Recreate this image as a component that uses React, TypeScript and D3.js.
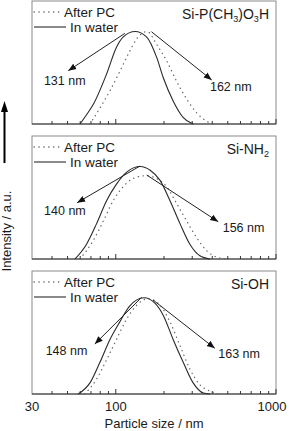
import React from "react";
import { scaleLog, scaleLinear, line, curveMonotoneX } from "d3";

type Pt = [number, number];

const W = 289;
const H = 431;
const PLOT = { left: 32, right: 276 };
const PANEL_TOP = [1, 136, 271];
const PANEL_H = 123;
const Y_MAX = 133;

// particle size (nm) vs. normalised intensity, one pair of curves per surface
const P1_WATER: Pt[] = [[59.8, 0], [65.7, 10], [72.3, 21], [87.6, 54], [101, 83], [111, 94], [132, 100], [156, 94], [180, 72], [198, 50], [228, 25], [264, 7], [297, 1], [305, 0]];
const P1_PC: Pt[] = [[69, 0], [77.6, 14], [92, 36], [106, 57], [120, 76], [135, 92], [157, 100], [180, 86], [208, 68], [240, 46], [277, 27], [320, 12], [369, 3], [397, 0]];
const P2_WATER: Pt[] = [[55.7, 0], [65.7, 16], [75.8, 38], [87.6, 63], [101, 81], [117, 94], [142, 100], [164, 96], [189, 85], [218, 63], [252, 38], [290, 16], [335, 3.5], [387, 0]];
const P2_PC: Pt[] = [[59.8, 0], [72.3, 20], [83.6, 41], [96.3, 63], [111, 78], [128, 87], [154, 90], [180, 87], [208, 78], [240, 60], [277, 41], [320, 23], [369, 9], [426, 2], [492, 0]];
const P3_WATER: Pt[] = [[58.3, 0], [69, 12], [79.5, 34], [92, 59], [106, 78], [122, 95], [150, 104], [176, 98], [198, 85], [228, 59], [264, 34], [304, 12], [352, 1], [387, 0]];
const P3_PC: Pt[] = [[64.1, 0], [75.8, 16], [87.6, 37], [101, 59], [117, 81], [135, 96], [159, 103], [189, 96], [218, 78], [252, 52], [290, 27], [335, 10], [387, 3], [447, 0]];

const SAMPLES = [
  { base: "Si-P(CH", parts: [["3", true], [")O", false], ["3", true], ["H", false]] },
  { base: "Si-NH", parts: [["2", true]] },
  { base: "Si-OH", parts: [] },
] as { base: string; parts: [string, boolean][] }[];

const PEAK_LABELS = [
  ["131 nm", "162 nm"],
  ["140 nm", "156 nm"],
  ["148 nm", "163 nm"],
];

// arrows: [fromNm, fromI, toNm, toI]; label anchors: [nm, I]
const ARROWS_LEFT = [[114, 98, 50.5, 57.6], [141.5, 100.5, 57.4, 60.9], [145, 104.5, 74, 54]];
const ARROWS_RIGHT = [[167, 99.8, 397, 47.6], [156, 90.8, 436, 40.3], [171, 101.6, 415, 49.4]];
const LABEL_LEFT = [[35.6, 42.2], [35.7, 47.6], [36.5, 42.2]];
const LABEL_RIGHT = [[387, 35.7], [465, 29.5], [436, 38.6]];

const MAJOR_TICKS = [100, 1000];
const MINOR_TICKS = [40, 50, 60, 70, 80, 90, 200, 300, 400, 500, 600, 700, 800, 900];
const TICK_LABELS = [30, 100, 1000];

const WATER = [P1_WATER, P2_WATER, P3_WATER];
const PC = [P1_PC, P2_PC, P3_PC];

const FONT = "'Liberation Sans', Arial, sans-serif";

const x = scaleLog().domain([30, 1000]).range([PLOT.left, PLOT.right]);

function Panel({ i }: { i: number }) {
  const top = PANEL_TOP[i];
  const bottom = top + PANEL_H;
  const y = scaleLinear().domain([0, Y_MAX]).range([bottom, top]);
  const path = line<Pt>()
    .x((d) => x(d[0]))
    .y((d) => y(d[1]))
    .curve(curveMonotoneX);
  const sample = SAMPLES[i];
  const al = ARROWS_LEFT[i];
  const ar = ARROWS_RIGHT[i];

  return (
    <g>
      <rect x={PLOT.left} y={top} width={PLOT.right - PLOT.left} height={PANEL_H} fill="none" stroke="#8a8a8a" strokeWidth={1} />
      <line x1={PLOT.left} x2={PLOT.right} y1={bottom} y2={bottom} stroke="#333" strokeWidth={1} />
      {MAJOR_TICKS.map((t) => (
        <line key={t} x1={x(t)} x2={x(t)} y1={bottom} y2={bottom - 5} stroke="#333" />
      ))}
      {MINOR_TICKS.map((t) => (
        <line key={t} x1={x(t)} x2={x(t)} y1={bottom} y2={bottom - 3} stroke="#333" />
      ))}

      <path d={path(PC[i]) ?? ""} fill="none" stroke="#666" strokeWidth={1.3} strokeDasharray="0.3 4.6" strokeLinecap="round" />
      <path d={path(WATER[i]) ?? ""} fill="none" stroke="#2a2a2a" strokeWidth={1.1} />

      {/* legend */}
      <line x1={34} x2={60} y1={top + 11} y2={top + 11} stroke="#666" strokeWidth={1.3} strokeDasharray="0.3 4.6" strokeLinecap="round" />
      <text x={64} y={top + 15.5} fontSize={13.5} fill="#1a1a1a">After PC</text>
      <line x1={34} x2={66} y1={top + 26} y2={top + 26} stroke="#2a2a2a" strokeWidth={1.1} />
      <text x={70} y={top + 30.5} fontSize={13.5} fill="#1a1a1a">In water</text>

      <text x={269} y={top + 18} fontSize={14} fill="#1a1a1a" textAnchor="end">
        {sample.base}
        {sample.parts.map(([s, sub], k) => (
          <tspan key={k} fontSize={sub ? 9 : 14} dy={sub ? 3 : k > 0 ? -3 : 0}>{s}</tspan>
        ))}
      </text>

      <line x1={x(al[0])} y1={y(al[1])} x2={x(al[2])} y2={y(al[3])} stroke="#222" strokeWidth={1} markerEnd="url(#head)" />
      <line x1={x(ar[0])} y1={y(ar[1])} x2={x(ar[2])} y2={y(ar[3])} stroke="#222" strokeWidth={1} markerEnd="url(#head)" />
      <text x={x(LABEL_LEFT[i][0])} y={y(LABEL_LEFT[i][1])} fontSize={12.5} fill="#1a1a1a">{PEAK_LABELS[i][0]}</text>
      <text x={x(LABEL_RIGHT[i][0])} y={y(LABEL_RIGHT[i][1])} fontSize={12.5} fill="#1a1a1a">{PEAK_LABELS[i][1]}</text>
    </g>
  );
}

export default function App() {
  const axisBottom = PANEL_TOP[2] + PANEL_H;
  return (
    <svg
      width={W}
      height={H}
      viewBox={`0 0 ${W} ${H}`}
      style={{ position: "absolute", left: 0, top: 0, background: "#fff", fontFamily: FONT }}
    >
      <defs>
        <marker id="head" markerUnits="userSpaceOnUse" markerWidth={10} markerHeight={10} refX={8} refY={4} orient="auto">
          <path d="M0,0.8 L8,4 L0,7.2 Z" fill="#111" />
        </marker>
      </defs>
      <rect width={W} height={H} fill="#fff" />
      {[0, 1, 2].map((i) => (
        <Panel key={i} i={i} />
      ))}

      {/* keep the outer tick labels inside the figure edge */}
      {TICK_LABELS.map((t) => (
        <text key={t} x={Math.max(15, Math.min(x(t), W - 17))} y={axisBottom + 17} fontSize={13} textAnchor="middle" fill="#1a1a1a">{t}</text>
      ))}
      <text x={(PLOT.left + PLOT.right) / 2} y={axisBottom + 34} fontSize={13} textAnchor="middle" fill="#1a1a1a">
        Particle size / nm
      </text>

      {/* y-axis: label with upward arrow */}
      <line x1={4.5} x2={4.5} y1={163} y2={108} stroke="#000" strokeWidth={2} />
      <path d="M4.5,101 L1,112 L8,112 Z" fill="#000" />
      <text transform="translate(11,231) rotate(-90)" fontSize={13} textAnchor="middle" fill="#1a1a1a">
        Intensity / a.u.
      </text>
    </svg>
  );
}
